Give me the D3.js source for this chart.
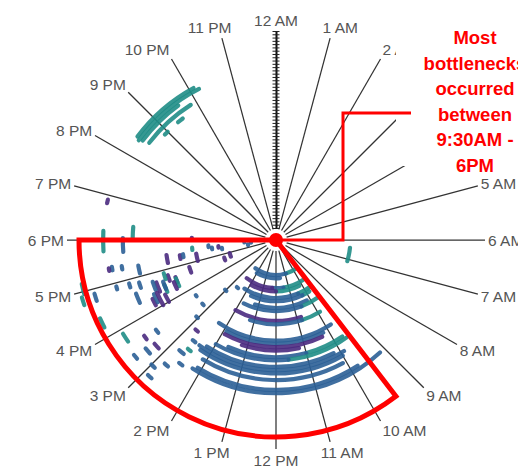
<!DOCTYPE html>
<html>
<head>
<meta charset="utf-8">
<script src="https://cdn.jsdelivr.net/npm/d3@7"></script>
<style>
  html, body { margin: 0; padding: 0; background: #fff; }
  svg { display: block; }
</style>
</head>
<body>
<svg id="chart" width="518" height="467"></svg>
<script>
// Clock face: one spoke per hour, 12 AM at the top, running clockwise
const hourLabels = ["12 AM","1 AM","2 AM","3 AM","4 AM","5 AM","6 AM","7 AM","8 AM","9 AM","10 AM","11 AM",
                    "12 PM","1 PM","2 PM","3 PM","4 PM","5 PM","6 PM","7 PM","8 PM","9 PM","10 PM","11 PM"];
// Radial axis: one ring per day of the observed period
const dayCount = 60;

// Bottleneck episodes: [day, start hour, end hour, severity level]
const middayBands = [
  [7, 9.6, 10.9, 3], [7, 10.9, 14.4, 2],
  [8, 11.6, 14.0, 2],
  [11, 9.7, 11.4, 3], [11, 11.4, 12.3, 2], [11, 12.3, 14.5, 1],
  [12, 10.2, 12.0, 3], [12, 12.0, 13.9, 1],
  [14, 9.5, 10.5, 3], [14, 10.5, 14.2, 2],
  [15, 9.8, 10.3, 3], [15, 10.3, 13.6, 2],
  [17, 10.2, 13.2, 2],
  [18, 9.6, 10.6, 3], [18, 10.6, 13.8, 2],
  [21, 10.8, 14.0, 1],
  [22, 9.9, 10.8, 3], [22, 10.8, 13.2, 2],
  [27, 9.8, 14.3, 2],
  [28, 10.2, 13.9, 2],
  [29, 10.3, 13.9, 1],
  [30, 11.2, 13.2, 1],
  [32, 9.7, 11.0, 3], [32, 11.0, 13.6, 2],
  [33, 9.6, 11.6, 3], [33, 11.6, 14.0, 2],
  [35, 10.2, 14.2, 2],
  [36, 9.9, 14.4, 2],
  [37, 10.0, 14.3, 2],
  [39, 10.1, 14.1, 2],
  [42, 9.8, 14.1, 2],
  [43, 9.15, 14.2, 2]
];

const afternoonMarks = [
  [49, 17.75, 18.2, 3], [43, 17.7, 18.05, 2], [40, 18.05, 18.35, 3],
  [30, 17.2, 17.48, 1], [39, 17.08, 17.3, 2],
  [44, 17.28, 17.36, 2], [47, 17.3, 17.38, 2], [48, 17.3, 17.36, 1],
  [57, 16.95, 17.15, 3], [58, 16.75, 16.9, 3], [54, 16.75, 16.9, 2],
  [47, 16.85, 16.92, 2], [43, 16.8, 16.9, 2], [42, 16.35, 16.6, 2],
  [55, 16.2, 16.4, 3], [51, 15.7, 15.9, 3],
  [35, 16.4, 16.7, 1], [36, 16.5, 16.75, 2], [33, 16.3, 16.55, 3],
  [31, 16.6, 16.8, 1], [38, 16.1, 16.3, 1], [37, 16.15, 16.4, 2],
  [34, 16.0, 16.25, 1], [32, 16.7, 16.9, 3], [29, 16.45, 16.65, 1], [40, 16.7, 16.85, 2],
  [45, 15.15, 15.3, 1], [48, 15.2, 15.35, 2], [50, 14.9, 15.0, 2], [47, 14.7, 14.8, 2],
  [41, 14.6, 14.75, 2], [39, 14.5, 14.6, 3], [44, 14.45, 14.55, 2], [36, 14.55, 14.65, 2],
  [33, 14.7, 14.8, 1], [52, 15.3, 15.4, 2], [53, 14.8, 14.9, 2], [46, 15.5, 15.6, 1],
  [42, 15.45, 15.55, 2], [30, 15.0, 15.08, 2], [26, 15.2, 15.28, 2],
  [22, 17.55, 17.65, 3], [21, 17.0, 17.35, 1],
  [16, 17.45, 17.55, 2], [14, 17.5, 17.6, 1], [13, 17.35, 17.45, 2], [17, 17.6, 17.7, 2],
  [11, 16.65, 16.95, 1], [4, 17.6, 17.7, 2], [5, 17.3, 17.4, 2], [6, 17.7, 17.8, 2],
  [26, 17.25, 17.4, 1], [25, 17.3, 17.42, 2],
  [29, 16.3, 16.6, 3], [30, 16.25, 16.5, 1], [24, 16.6, 16.85, 1], [33, 16.4, 16.65, 2],
  [36, 16.0, 16.4, 1], [26, 15.64, 15.7, 2], [15, 14.55, 14.65, 2], [18, 14.95, 15.05, 2],
  [13, 16.55, 16.75, 1],
  [49, 18.82, 18.9, 1], [22, 18.02, 18.1, 1]
];

const eveningBands = [
  [47, 20.45, 21.6, 3], [48, 20.4, 22.2, 3], [49, 20.45, 22.1, 3],
  [45, 20.5, 21.85, 3],
  [43, 21.35, 21.5, 3], [43, 20.9, 21.0, 3]
];

const morningMarks = [
  [19, 6.4, 7.1, 3]
];

// Highlighted window and its note
const highlightStart = 9.5;
const highlightEnd = 18;
const noteLines = ["Most", "bottlenecks", "occurred", "between", "9:30AM -", "6PM"];

const svg = d3.select("#chart");
const cx = 276, cy = 240;
const outer = 209;

const angle = d3.scaleLinear().domain([0, 24]).range([0, 2 * Math.PI]);
const radius = d3.scaleLinear().domain([0, dayCount]).range([12, outer]);
const color = d3.scaleOrdinal().domain([1, 2, 3])
  .range(["#4a2a80", "#2b5f96", "#1f8d86"]);

const pt = (r, h) => [r * Math.sin(angle(h)), -r * Math.cos(angle(h))];

const g = svg.append("g").attr("transform", `translate(${cx},${cy})`);

// Hour spokes (midnight spoke carries the day axis instead)
g.append("g").selectAll("line")
  .data(d3.range(1, 24))
  .join("line")
  .attr("x1", h => pt(11, h)[0]).attr("y1", h => pt(11, h)[1])
  .attr("x2", h => pt(outer, h)[0]).attr("y2", h => pt(outer, h)[1])
  .attr("stroke", "#333")
  .attr("stroke-width", 1.25);

// Day axis along the midnight spoke
const dayAxisScale = d3.scaleLinear().domain([0, dayCount]).range([-12, -outer]);
const axisG = g.append("g");
axisG.append("g").call(d3.axisLeft(dayAxisScale).ticks(dayCount).tickSize(3.5).tickSizeOuter(0).tickFormat(""));
axisG.append("g").call(d3.axisRight(dayAxisScale).ticks(dayCount).tickSize(3.5).tickSizeOuter(0).tickFormat(""));
axisG.selectAll(".domain").attr("stroke", "#111").attr("stroke-width", 1.6);
axisG.selectAll(".tick line").attr("stroke", "#222").attr("stroke-width", 1);

// Episode arcs
function arcPath(d) {
  const r = radius(d[0]);
  const p = d3.path();
  const a0 = angle(d[1]) - Math.PI / 2, a1 = angle(d[2]) - Math.PI / 2;
  p.arc(0, 0, r, a0, a1, false);
  return p.toString();
}
const allMarks = [...middayBands, ...afternoonMarks, ...eveningBands, ...morningMarks];
g.append("g").selectAll("path")
  .data(allMarks)
  .join("path")
  .attr("d", arcPath)
  .attr("fill", "none")
  .attr("stroke", d => color(d[3]))
  .attr("stroke-width", 4.2)
  .attr("stroke-linecap", "round")
  .attr("stroke-opacity", 0.9);

// Hour labels
const labelG = g.append("g")
  .attr("font-family", "'Liberation Sans', Arial, sans-serif")
  .attr("font-size", 15.5)
  .attr("fill", "#555");
labelG.selectAll("text")
  .data(d3.range(24))
  .join("text")
  .attr("text-anchor", "middle")
  .attr("dominant-baseline", "central")
  .text(h => hourLabels[h])
  .each(function (h) {
    const w = this.getComputedTextLength();
    const a = angle(h);
    const [px, py] = pt(211, h);
    const sx = Math.max(-1, Math.min(1, 2 * Math.sin(a)));
    d3.select(this)
      .attr("x", px + sx * (w / 2 + 1))
      .attr("y", py - Math.cos(a) * 9);
  });

// Highlighted time window
const wedge = d3.arc().innerRadius(0).outerRadius(197)
  .startAngle(angle(highlightStart)).endAngle(angle(highlightEnd));
g.append("path")
  .attr("d", wedge())
  .attr("fill", "none")
  .attr("stroke", "#ff0000")
  .attr("stroke-width", 5)
  .attr("stroke-linejoin", "miter");

// Note panel
svg.append("rect")
  .attr("x", 396).attr("y", 14).attr("width", 122).attr("height", 152)
  .attr("fill", "#fff");

svg.append("path")
  .attr("d", d3.line()([[cx, cy], [343, cy], [343, 113], [411, 113]]))
  .attr("fill", "none")
  .attr("stroke", "#ff0000")
  .attr("stroke-width", 3);

svg.append("g")
  .attr("font-family", "'Liberation Sans', Arial, sans-serif")
  .attr("font-weight", "bold")
  .attr("font-size", 18.5)
  .attr("fill", "#ff0000")
  .attr("text-anchor", "middle")
  .selectAll("text")
  .data(noteLines)
  .join("text")
  .attr("x", 475)
  .attr("y", (d, i) => 44 + i * 25.5)
  .text(d => d);

// Centre marker
g.append("circle").attr("r", 7).attr("fill", "#ff0000");
</script>
</body>
</html>
